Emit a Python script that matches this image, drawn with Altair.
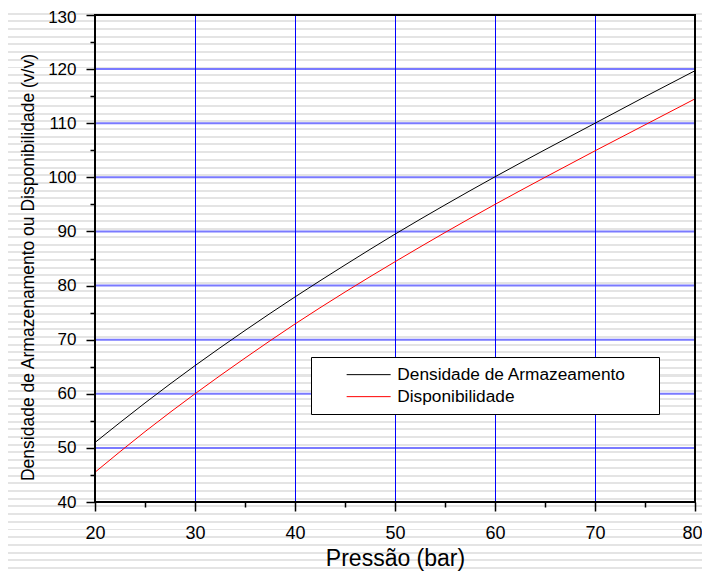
import altair as alt
import pandas as pd

# ---- data ----
pressao = [20, 25, 30, 35, 40, 45, 50, 55, 60, 65, 70, 75, 80]
densidade = [51.0, 58.3, 65.2, 71.7, 77.9, 83.8, 89.5, 94.9, 100.1, 105.1, 110.0, 114.9, 119.7]
disponibilidade = [45.5, 53.0, 60.0, 66.6, 72.9, 78.8, 84.4, 89.8, 95.0, 100.0, 104.9, 109.7, 114.5]
series = ["Densidade de Armazeamento", "Disponibilidade"]
series_colors = ["black", "red"]

x_ticks = [20, 25, 30, 35, 40, 45, 50, 55, 60, 65, 70, 75, 80]
y_ticks = [40, 45, 50, 55, 60, 65, 70, 75, 80, 85, 90, 95, 100, 105, 110, 115, 120, 125, 130]
grid_x = [30, 40, 50, 60, 70]
grid_y = [50, 60, 70, 80, 90, 100, 110, 120]

FONT = "Liberation Sans"
W, H = 600, 487
PAD = {"left": 87, "top": 7, "right": 7, "bottom": 69}
CANVAS_W = W + PAD["left"] + PAD["right"]
CANVAS_H = H + PAD["top"] + PAD["bottom"]

df = pd.DataFrame({
    "P": pressao * 2,
    "v": densidade + disponibilidade,
    "serie": [series[0]] * len(pressao) + [series[1]] * len(pressao),
})

xscale = alt.Scale(domain=[20, 80], nice=False, zero=False)
yscale = alt.Scale(domain=[40, 130], nice=False, zero=False)

tick_cond = {"condition": {"test": "datum.value % 10 === 0", "value": 9}, "value": 5}
label_expr = "datum.value % 10 === 0 ? datum.label : ''"

x_axis = alt.Axis(
    values=x_ticks, tickSize=tick_cond, labelExpr=label_expr, labelOverlap=False,
    labelFlush=False, labelFontSize=18, labelFont=FONT, labelColor="black", labelPadding=13,
    labelAlign={"condition": {"test": "datum.value === 80", "value": "right"}, "value": "center"},
    labelOffset={"condition": {"test": "datum.value === 80", "value": 7}, "value": 0},
    tickColor="black", tickWidth=1.5, domain=False, grid=False, zindex=1,
    title="Pressão (bar)", titleFont=FONT, titleFontSize=23, titleFontWeight="normal",
    titleColor="black", titleY=63, titleBaseline="alphabetic",
)
y_axis = alt.Axis(
    values=y_ticks, tickSize=tick_cond, labelExpr=label_expr, labelOverlap=False,
    labelFlush=False, labelFontSize=17, labelFont=FONT, labelColor="black", labelPadding=10,
    labelOffset={"condition": {"test": "datum.value === 130", "value": 2.5}, "value": 0},
    tickColor="black", tickWidth=1.5, domain=False, grid=False, zindex=1,
    title="Densidade de Armazenamento ou Disponibilidade (v/v)", titleFont=FONT,
    titleFontSize=17.5, titleFontWeight="normal", titleColor="black",
    titleX=-62, titleY=252, titleBaseline="alphabetic",
)

# ---- decorative striped slide background (gradient) ----
stripe_color = "#e4e4e4"
stops = []
k = 0
while True:
    p = 4.9 + 7.7 * k - 8.0
    k += 1
    a, b = p / CANVAS_H, (p + 2.0) / CANVAS_H
    if b <= 0:
        continue
    if a >= 1:
        break
    a, b = max(a, 0.0), min(b, 1.0)
    stops += [
        {"offset": a, "color": "white"},
        {"offset": a, "color": stripe_color},
        {"offset": b, "color": stripe_color},
        {"offset": b, "color": "white"},
    ]
gradient = {"gradient": "linear", "x1": 0, "y1": 0, "x2": 0, "y2": 1, "stops": stops}

background = alt.Chart(alt.Data(values=[{}])).mark_rect(fill=gradient, strokeWidth=0).encode(
    x=alt.value(-PAD["left"]), x2=alt.value(W + PAD["right"]),
    y=alt.value(-PAD["top"]), y2=alt.value(H + PAD["bottom"]),
)

hgrid = alt.Chart(pd.DataFrame({"v": grid_y})).mark_rule(color="#7a7aff", strokeWidth=2).encode(
    y=alt.Y("v:Q", scale=yscale, axis=y_axis)
)
vgrid = alt.Chart(pd.DataFrame({"P": grid_x})).mark_rule(color="#0000ff", strokeWidth=1, xOffset=0.5).encode(
    x=alt.X("P:Q", scale=xscale, axis=x_axis)
)

# blank (non-trimmed) characters widen the legend frame on the right, as in the reference
BLANK = "\u2800" * 2
lines = alt.Chart(df).mark_line(strokeWidth=1, interpolate="monotone").encode(
    x=alt.X("P:Q", scale=xscale, axis=x_axis),
    y=alt.Y("v:Q", scale=yscale, axis=y_axis),
    color=alt.Color("serie:N", scale=alt.Scale(domain=series, range=series_colors), legend=alt.Legend(
        title=None, orient="none", legendX=216, legendY=342,
        symbolType="M-2.75,0H2.75", symbolSize=256, symbolStrokeWidth=1, symbolOffset=40,
        labelFontSize=17.3, labelFont=FONT, labelColor="black", labelOffset=20,
        padding=9, rowPadding=4, strokeColor="black", fillColor="white", labelLimit=600,
        labelExpr="datum.label + '" + BLANK + "'", zindex=1, cornerRadius=0,
    )),
)

frame = alt.Chart(alt.Data(values=[{"P": 20, "P2": 80, "v": 40, "v2": 130}])).mark_rect(
    fillOpacity=0, stroke="black", strokeWidth=2
).encode(
    x=alt.X("P:Q", scale=xscale, axis=x_axis),
    x2="P2:Q",
    y=alt.Y("v:Q", scale=yscale, axis=y_axis),
    y2="v2:Q",
)

chart = alt.layer(background, hgrid, vgrid, lines, frame).properties(
    width=W, height=H, padding=PAD, autosize=alt.AutoSizeParams(type="none"),
).configure_view(strokeWidth=0).configure_legend(strokeWidth=1.5).configure(font=FONT)

chart.save("out.html", embed_options={"renderer": "svg", "actions": False})
